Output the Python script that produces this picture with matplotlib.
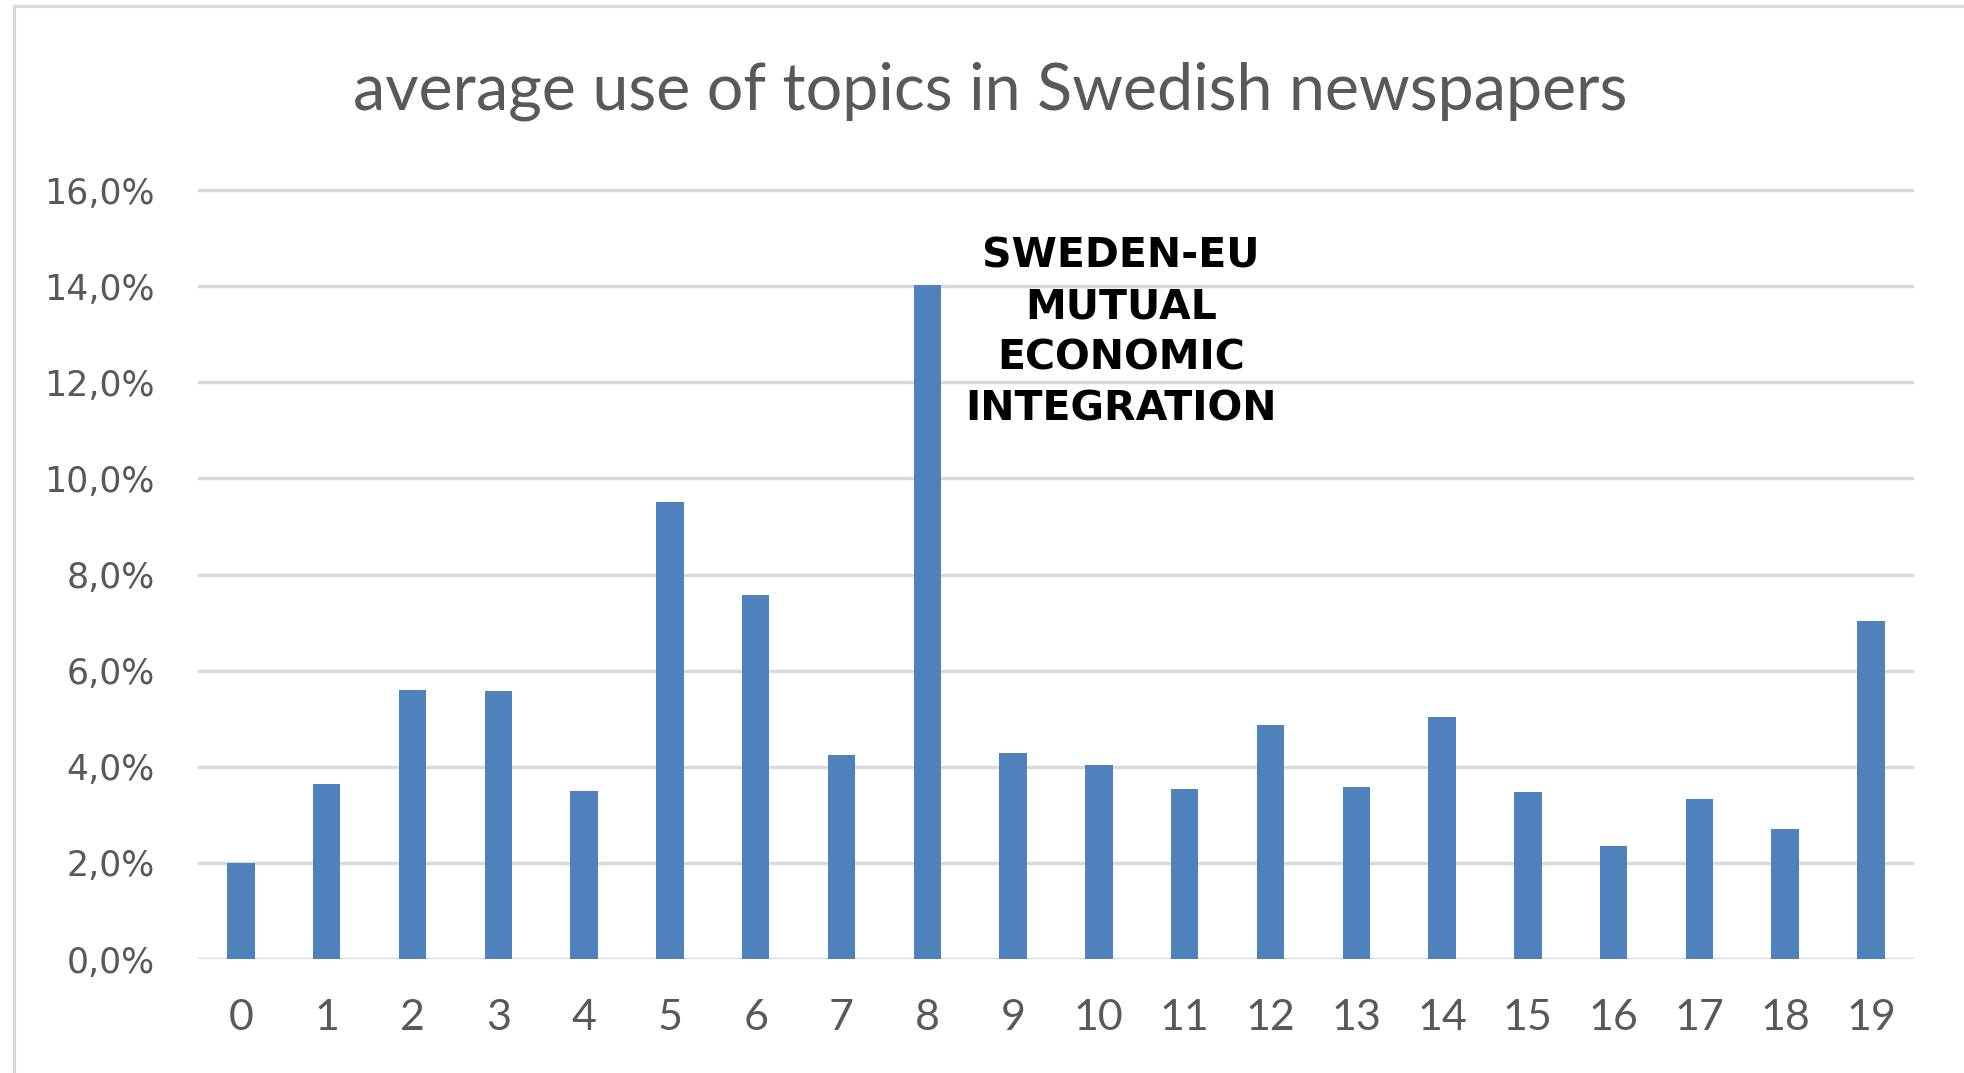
import matplotlib
matplotlib.use("Agg")
import matplotlib.pyplot as plt
from matplotlib.patches import Rectangle
from matplotlib.ticker import FuncFormatter

# average share of each topic across the newspaper corpus
topics = list(range(20))
share = [0.0200, 0.0364, 0.0560, 0.0557, 0.0349, 0.0950, 0.0757, 0.0424,
         0.1403, 0.0428, 0.0403, 0.0354, 0.0486, 0.0358, 0.0504, 0.0348,
         0.0236, 0.0333, 0.0270, 0.0703]
y_ticks = [0.0, 0.02, 0.04, 0.06, 0.08, 0.10, 0.12, 0.14, 0.16]
title = "average use of topics in Swedish newspapers"
highlight_topic = 8
highlight_label = "SWEDEN-EU\nMUTUAL\nECONOMIC\nINTEGRATION"

BLUE = "#4f81bd"
GREY_TEXT = "#595959"
GRID = "#d9d9d9"

fig = plt.figure(figsize=(19.64, 10.73), dpi=100)
fig.patch.set_facecolor("white")

# chart frame around the whole figure
fig.patches.append(Rectangle((0.0072, -0.02), 1.05, 1.0145, transform=fig.transFigure,
                             fill=False, edgecolor=GRID, linewidth=2.2))

ax = fig.add_axes([0.1008, 0.1062, 0.8737, 0.7212])
ax.bar(topics, share, width=0.32, color=BLUE, zorder=2)

ax.set_xlim(-0.5, 19.5)
ax.set_ylim(0, 0.161)
ax.set_yticks(y_ticks)
ax.yaxis.set_major_formatter(FuncFormatter(lambda v, p: f"{v * 100:.1f}%".replace(".", ",")))
ax.set_xticks(topics)
ax.set_xticklabels([str(t) for t in topics])

ax.grid(axis="y", color=GRID, linewidth=2.5, zorder=0)
ax.set_axisbelow(True)
for s in ax.spines.values():
    s.set_visible(False)

ax.tick_params(axis="both", length=0, colors=GREY_TEXT)
ax.tick_params(axis="y", pad=31, labelsize=25, labelfontfamily="DejaVu Sans")
ax.tick_params(axis="x", pad=29, labelsize=31, labelfontfamily="Lato")

fig.text(0.504, 0.8975, title, ha="center", va="baseline", fontsize=46.5,
         color=GREY_TEXT, family="Lato")

ax.text(highlight_topic + 2.26, 0.1303, highlight_label, ha="center", va="center",
        multialignment="center", fontsize=29.5, fontweight="bold", color="black",
        family="DejaVu Sans", linespacing=1.36)

fig.savefig("out.png", dpi=100, facecolor="white")
